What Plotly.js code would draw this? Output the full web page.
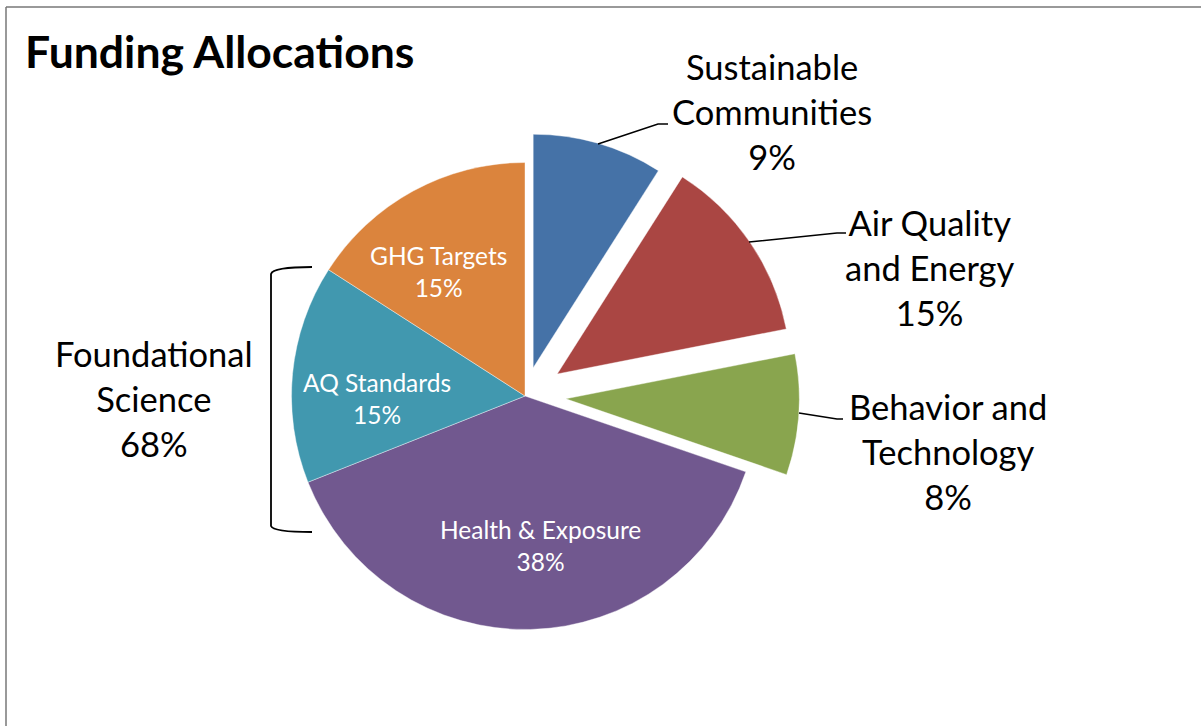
<!DOCTYPE html>
<html><head><meta charset="utf-8">
<script src="https://cdn.plot.ly/plotly-3.0.1.min.js"></script>
<style>html,body{margin:0;padding:0;background:#fff}#chart{width:1201px;height:726px}</style>
</head><body><div id="chart"></div>
<script>
// ---- data ----
const categories = ["Sustainable Communities", "Air Quality and Energy", "Behavior and Technology", "Health & Exposure", "AQ Standards", "GHG Targets"];
const sliceValues = [9.0, 12.9, 8.35, 38.7, 15.1, 15.9];
const percentLabels = ["9%", "15%", "8%", "38%", "15%", "15%"];
const labelLines = [["Sustainable", "Communities"], ["Air Quality", "and Energy"], ["Behavior and", "Technology"], ["Health & Exposure"], ["AQ Standards"], ["GHG Targets"]];
const groupLines = ["Foundational", "Science"];
const groupPercent = "68%";
const titleText = "Funding Allocations";

// ---- styles / layout ----
const colors = ["#4572A7", "#AA4643", "#89A54E", "#71588F", "#4198AF", "#DB843D"];
const pulls = [0.126, 0.167, 0.175, 0, 0, 0];
const W = 1201, H = 726;
const px = x => x / W, py = y => 1 - y / H;
const FONT = "Lato, 'Open Sans', sans-serif";

// pie placement (pixels)
const cx = 525, cy = 396, R = 233.5;
const half = R * (1 + Math.max(...pulls));
const domain = { x: [px(cx - half), px(cx + half)], y: [py(cy + half), py(cy - half)] };

// label placements (pixels): centre x, centre y, outside?
const labelPos = [
  { x: 772, y: 111, out: true },
  { x: 930, y: 267, out: true },
  { x: 948, y: 451, out: true },
  { x: 540, y: 545, out: false },
  { x: 377, y: 399, out: false },
  { x: 439, y: 271, out: false }
];
const leaders = [
  [[598, 144], [658, 124], [668, 124]],
  [[749, 242], [837, 233], [846, 233]],
  [[799, 413], [837, 419], [843, 419]]
];

const annotations = categories.map((c, i) => {
  const p = labelPos[i];
  return {
    xref: "paper", yref: "paper", x: px(p.x), y: py(p.y),
    xanchor: "center", yanchor: "middle", showarrow: false, align: "center",
    text: labelLines[i].concat([percentLabels[i]]).join("<br>"),
    font: { family: FONT, size: p.out ? 34.5 : 24.5, color: p.out ? "#000" : "#fff" }
  };
});
annotations.push({
  xref: "paper", yref: "paper", x: px(154), y: py(398), xanchor: "center", yanchor: "middle",
  showarrow: false, align: "center", text: groupLines.concat([groupPercent]).join("<br>"),
  font: { family: FONT, size: 34.5, color: "#000" }
});
annotations.push({
  xref: "paper", yref: "paper", x: px(23), y: py(51), xanchor: "left", yanchor: "middle",
  showarrow: false, text: "<b>" + titleText + "</b>",
  font: { family: FONT, size: 44.5, color: "#000" }
});

const toPath = pts => pts.map((p, i) => (i ? "L" : "M") + px(p[0]) + "," + py(p[1])).join(" ");
const shapes = leaders.map(l => ({ type: "path", xref: "paper", yref: "paper", path: toPath(l), line: { color: "#000", width: 1.5 } }));
shapes.push({
  type: "path", xref: "paper", yref: "paper",
  path: `M${px(312)},${py(267)} Q${px(273)},${py(267)} ${px(271)},${py(274)} L${px(271)},${py(526)} Q${px(273)},${py(532)} ${px(312)},${py(532)}`,
  line: { color: "#000", width: 1.8 }
});
shapes.push({ type: "line", xref: "paper", yref: "paper", x0: px(6), y0: py(7), x1: 1.01, y1: py(7), line: { color: "#777", width: 1.5 } });
shapes.push({ type: "line", xref: "paper", yref: "paper", x0: px(6), y0: py(7), x1: px(6), y1: -0.01, line: { color: "#777", width: 1.5 } });

const trace = {
  type: "pie", labels: categories, values: sliceValues, sort: false, direction: "clockwise", rotation: 0,
  pull: pulls, marker: { colors: colors, line: { color: "#ffffff", width: 0.4 } },
  textinfo: "none", hoverinfo: "skip", domain: domain, showlegend: false
};

Plotly.newPlot("chart", [trace], {
  width: W, height: H, margin: { l: 0, r: 0, t: 0, b: 0 },
  paper_bgcolor: "#fff", showlegend: false, annotations: annotations, shapes: shapes
}, { staticPlot: true, displayModeBar: false });
</script></body></html>
